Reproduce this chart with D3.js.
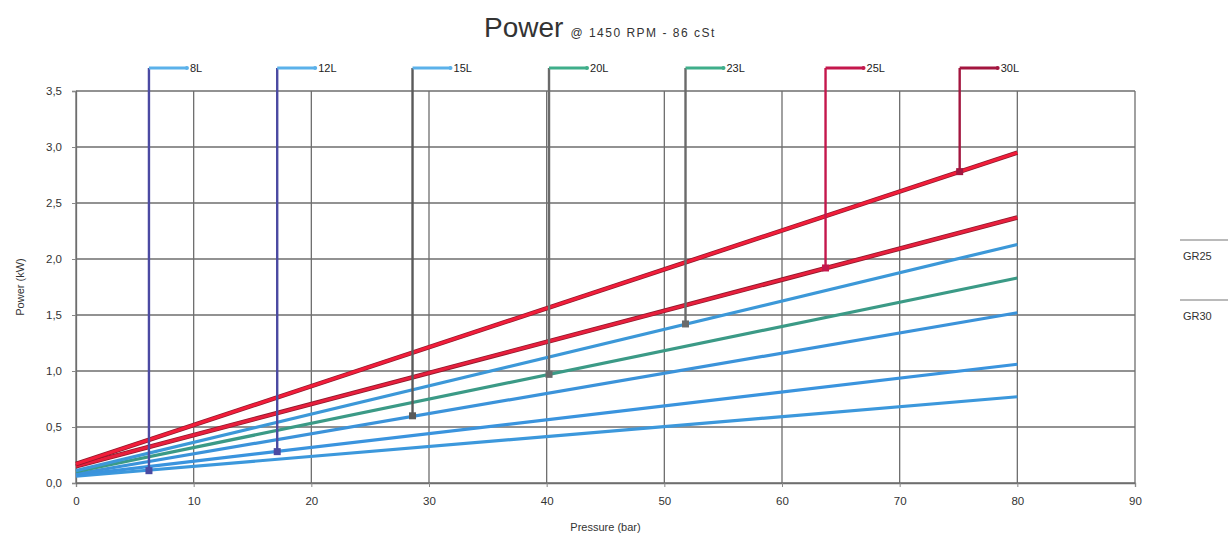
<!DOCTYPE html>
<html>
<head>
<meta charset="utf-8">
<script src="https://cdn.jsdelivr.net/npm/d3@7"></script>
<style>
  html, body { margin: 0; padding: 0; background: #fff; }
  svg { display: block; font-family: "Liberation Sans", Arial, sans-serif; }
</style>
</head>
<body>
<svg id="chart" width="1228" height="538"></svg>
<script>
// ---- data ----
const seriesNames = ["8L", "12L", "15L", "20L", "23L", "25L", "30L"];
const pressure = [0, 80];                       // bar, line end points
const power8L  = [0.06, 0.77];
const power12L = [0.07, 1.06];
const power15L = [0.08, 1.52];
const power20L = [0.10, 1.83];
const power23L = [0.11, 2.13];
const power25L = [0.15, 2.37];
const power30L = [0.17, 2.95];
const markerPressure = [6.2, 17.1, 28.6, 40.2, 51.8, 63.7, 75.1];
const markerPower    = [0.11, 0.28, 0.60, 0.97, 1.42, 1.92, 2.78];
const xTicks = [0, 10, 20, 30, 40, 50, 60, 70, 80, 90];
const yTicks = [0, 0.5, 1.0, 1.5, 2.0, 2.5, 3.0, 3.5];
const sideLabels = ["GR25", "GR30"];

const seriesValues = [power8L, power12L, power15L, power20L, power23L, power25L, power30L];
const lineColors   = ["#3c98dc", "#3a94de", "#3b93da", "#3b9a86", "#3c98d8", "#e81f3d", "#f21d3a"];
const calloutVert  = ["#4b4aa2", "#4b4aa2", "#5a5a5a", "#6a6a6a", "#6a6a6a", "#c4174c", "#a3163f"];
const calloutHoriz = ["#5bb1ea", "#5bb1ea", "#5bb1ea", "#3fae8a", "#3fae8a", "#c4174c", "#a3163f"];

// ---- layout ----
const svg = d3.select("#chart");
const x = d3.scaleLinear().domain([0, 90]).range([76, 1135]);
const y = d3.scaleLinear().domain([0, 3.5]).range([483, 91]);
const fmt = d => d3.format(".1f")(d).replace(".", ",");

// gridlines
const grid = svg.append("g");
grid.selectAll("line.v").data(xTicks).join("line")
  .attr("x1", d => x(d)).attr("x2", d => x(d))
  .attr("y1", y(0)).attr("y2", y(3.5))
  .attr("stroke", "#6e6e6e").attr("stroke-width", 1.3);
grid.selectAll("line.h").data(yTicks).join("line")
  .attr("x1", x(0)).attr("x2", x(90))
  .attr("y1", d => y(d)).attr("y2", d => y(d))
  .attr("stroke", "#6e6e6e").attr("stroke-width", 1.3);

// axes
const xAxis = d3.axisBottom(x).tickValues(xTicks).tickSize(4).tickPadding(10).tickFormat(d3.format("d"));
const gx = svg.append("g").attr("transform", `translate(0,${y(0)})`).call(xAxis);
const yAxis = d3.axisLeft(y).tickValues(yTicks).tickSize(4).tickPadding(10).tickFormat(fmt);
const gy = svg.append("g").attr("transform", `translate(${x(0)},0)`).call(yAxis);
[gx, gy].forEach(g => {
  g.select(".domain").attr("stroke", "#6e6e6e").attr("stroke-width", 1.3);
  g.selectAll(".tick line").attr("stroke", "#888");
  g.selectAll("text").attr("fill", "#333").style("font-size", "11.5px");
});

// lines
const lineGen = d3.line().x((d, i) => x(pressure[i])).y(d => y(d));
const lines = svg.append("g");
seriesValues.forEach((vals, i) => {
  if (i >= 5) {
    lines.append("path").attr("d", lineGen(vals)).attr("fill", "none")
      .attr("stroke", "#8e1a2c").attr("stroke-width", 4.6);
  }
  lines.append("path").attr("d", lineGen(vals)).attr("fill", "none")
    .attr("stroke", lineColors[i]).attr("stroke-width", i >= 5 ? 3 : 3.2);
});

// callouts
const topY = 68;
const callouts = svg.append("g");
seriesNames.forEach((name, i) => {
  const px = x(markerPressure[i]);
  const py = y(markerPower[i]);
  callouts.append("line").attr("x1", px).attr("x2", px).attr("y1", py).attr("y2", topY)
    .attr("stroke", calloutVert[i]).attr("stroke-width", 2.4);
  callouts.append("line").attr("x1", px).attr("x2", px + 38).attr("y1", topY).attr("y2", topY)
    .attr("stroke", calloutHoriz[i]).attr("stroke-width", 3);
  callouts.append("circle").attr("cx", px + 38).attr("cy", topY).attr("r", 2)
    .attr("fill", calloutHoriz[i]);
  callouts.append("rect").attr("x", px - 3.5).attr("y", py - 3.5).attr("width", 7).attr("height", 7)
    .attr("fill", calloutVert[i]);
  callouts.append("text").attr("x", px + 41).attr("y", topY + 4)
    .attr("fill", "#222").style("font-size", "11px").text(name);
});

// title
const title = svg.append("text").attr("x", 484).attr("y", 37).attr("fill", "#333");
title.append("tspan").style("font-size", "28px").text("Power");
title.append("tspan").style("font-size", "12px").style("letter-spacing", "1.5px")
  .attr("dx", 7).text("@ 1450 RPM - 86 cSt");

// axis titles
svg.append("text").attr("x", x(45)).attr("y", 531).attr("text-anchor", "middle")
  .attr("fill", "#333").style("font-size", "11px").text("Pressure (bar)");
svg.append("text").attr("transform", `translate(24,${(y(0) + y(3.5)) / 2}) rotate(-90)`)
  .attr("text-anchor", "middle").attr("fill", "#333").style("font-size", "11px").text("Power (kW)");

// side labels
const sideY = [240, 300];
sideLabels.forEach((t, i) => {
  svg.append("line").attr("x1", 1180).attr("x2", 1228).attr("y1", sideY[i]).attr("y2", sideY[i])
    .attr("stroke", "#777").attr("stroke-width", 1.2);
  svg.append("text").attr("x", 1183).attr("y", sideY[i] + 20)
    .attr("fill", "#333").style("font-size", "11px").text(t);
});
</script>
</body>
</html>
